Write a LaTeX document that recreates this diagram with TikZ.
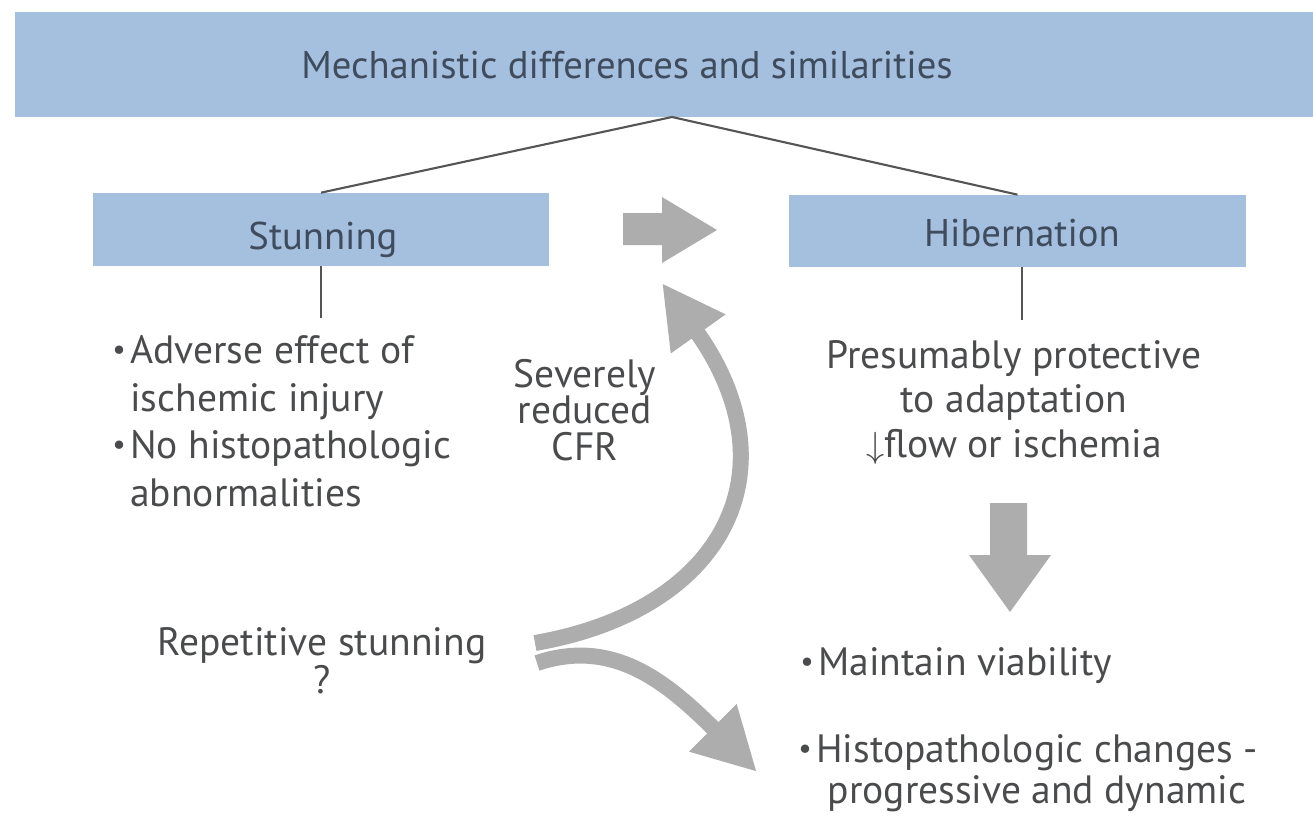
\documentclass[tikz,border=0pt]{standalone}
\usepackage{fontspec}
\setmainfont{PT Sans}
\usepackage{tikz}
\usetikzlibrary{arrows.meta}
\usetikzlibrary{positioning}
\usetikzlibrary{calc}

\definecolor{boxblue}{HTML}{A5C0DE}
\definecolor{hdrtxt}{HTML}{3E4C5E}
\definecolor{txtgray}{HTML}{4A4B4D}
\definecolor{arrgray}{HTML}{ADADAD}
\definecolor{linegray}{HTML}{555555}

\newcommand{\bul}{\llap{\raisebox{0.2ex}{\fontsize{17}{17}\selectfont•}\hspace{2.5pt}}}

\begin{document}
\begin{tikzpicture}[x=0.02cm,y=-0.02cm,
    every node/.append style={text=txtgray,inner sep=0pt},
    hdr/.style={fill=boxblue,draw=none},
    hdrfont/.style={text=hdrtxt,font=\fontsize{22}{26}\selectfont},
    txt/.style={font=\fontsize{22.5}{27}\selectfont},
    link/.style={draw=linegray,line width=1.2pt},
    curvearrow/.style={draw=arrgray,line width=0.32cm,-{Triangle[length=1.25cm,width=1.25cm]}},
    blockarrow/.style={fill=arrgray}]
    \useasboundingbox (0,0) rectangle (1313,822);

    % header boxes
    \fill[boxblue] (15,12) rectangle (1313,117);
    \node[hdrfont,anchor=base] (title) at (627,78) {Mechanistic differences and similarities};
    \coordinate (top) at (672,117);

    \node[hdr,minimum width=9.12cm,minimum height=1.46cm] (stun) at (321,229.5) {};
    \node[hdrfont,anchor=base] (stunlbl) at (323,249) {Stunning};
    \node[hdr,minimum width=9.14cm,minimum height=1.44cm] (hib) at (1017.5,231) {};
    \node[hdrfont,anchor=base] (hiblbl) at (1022,246) {Hibernation};

    \draw[link] (top) -- (stun.north);
    \draw[link] (top) -- (hib.north);

    % text blocks
    \node[txt,align=left,anchor=base west] (stuntxt) at (130,506)
        {\bul Adverse effect of\\ischemic injury\\\bul No histopathologic\\abnormalities};
    \node[txt,align=center,anchor=base,font=\fontsize{22.5}{20.5}\selectfont] (cfr) at (585,460)
        {Severely\\reduced\\CFR};
    \node[txt,align=center,anchor=base,font=\fontsize{22.5}{25.3}\selectfont] (hibtxt) at (1014,457)
        {Presumably protective\\to adaptation\\$\downarrow$flow or ischemia};
    \node[txt,align=center,anchor=base,font=\fontsize{22.5}{21.6}\selectfont] (rep) at (322,693)
        {Repetitive stunning\\?};
    \node[txt,anchor=base west] (viab) at (818,675) {\bul Maintain viability};
    \node[txt,align=center,anchor=base,font=\fontsize{22.5}{23}\selectfont] (histo) at (1037,803)
        {\bul Histopathologic changes -\\progressive and dynamic};

    \coordinate (stunlow) at (321,318);
    \coordinate (hiblow) at (1022,320);
    \draw[link] (stun.south) -- (stunlow);
    \draw[link] (hib.south -| hiblow) -- (hiblow);

    % block arrows
    \fill[blockarrow] (623,213) -- (662,213) -- (662,197) -- (717,230) -- (662,263) -- (662,245) -- (623,245) -- cycle;
    \fill[blockarrow] (990,503) -- (1027,503) -- (1027,555) -- (1051,555) -- (1010,612) -- (969,555) -- (990,555) -- cycle;

    % curved arrows
    \coordinate (upstart) at (535,643);
    \coordinate (downstart) at (537,663);
    \coordinate (upend) at (662,283);
    \coordinate (downend) at (757,772);
    \draw[curvearrow] (upstart) .. controls (725,610) and (795,470) .. (upend);
    \draw[curvearrow] (downstart) .. controls (612,638) and (665,680) .. (downend);
\end{tikzpicture}
\end{document}
